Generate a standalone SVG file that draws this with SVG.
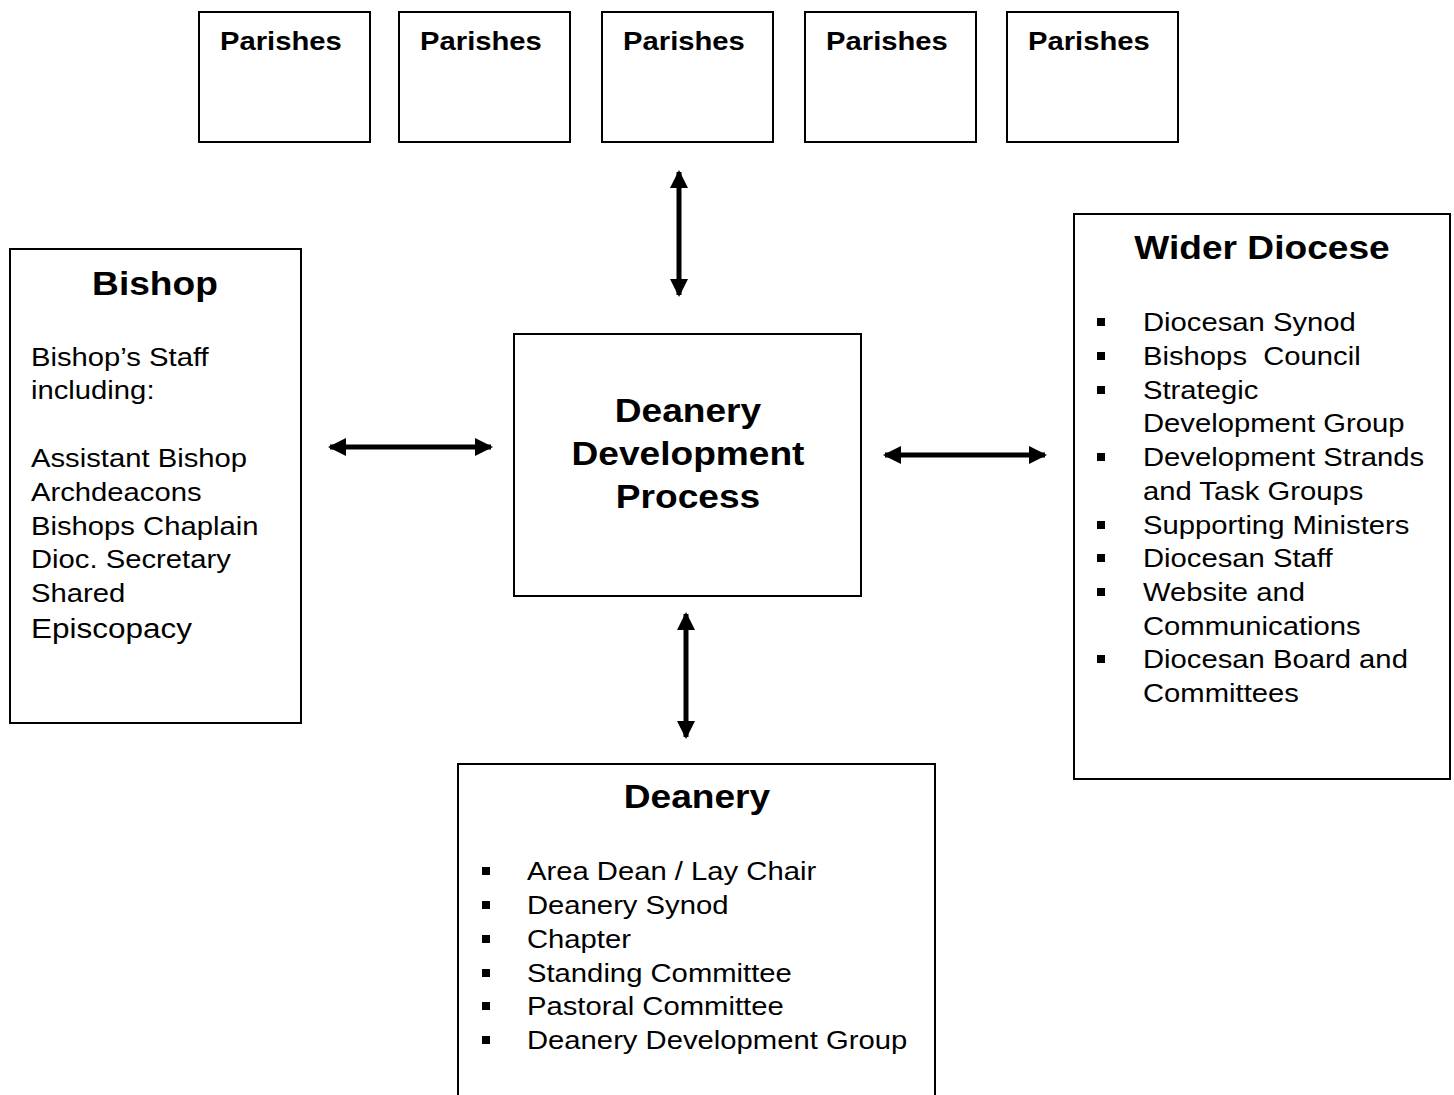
<svg xmlns="http://www.w3.org/2000/svg" width="1454" height="1095" viewBox="0 0 1454 1095">
<style>
.box{fill:#fff;stroke:#000;stroke-width:2}
text{font-family:"Liberation Sans",Arial,sans-serif;fill:#000}
.h{font-weight:bold;font-size:26px;transform-box:fill-box;transform-origin:0 0;transform:scaleX(1.125)}
.t{font-weight:bold;font-size:33px;text-anchor:middle;transform-box:fill-box;transform-origin:50% 50%;transform:scaleX(1.125)}
.b{font-size:26px;transform-box:fill-box;transform-origin:0 0;transform:scaleX(1.125)}
.c{stroke:#000;stroke-width:5;fill:none}
.bul{fill:#000}
</style>
<defs>
<marker id="ah" viewBox="0 0 18 18" refX="16" refY="9" markerWidth="18" markerHeight="18" markerUnits="userSpaceOnUse" orient="auto-start-reverse">
<path d="M0,0 L18,9 L0,18 Z" fill="#000"/>
</marker>
</defs>
<g id="parishes1"><rect class="box" x="199" y="12" width="171" height="130"/><text class="h" x="220" y="50">Parishes</text></g>
<g id="parishes2"><rect class="box" x="399" y="12" width="171" height="130"/><text class="h" x="420" y="50">Parishes</text></g>
<g id="parishes3"><rect class="box" x="602" y="12" width="171" height="130"/><text class="h" x="623" y="50">Parishes</text></g>
<g id="parishes4"><rect class="box" x="805" y="12" width="171" height="130"/><text class="h" x="826" y="50">Parishes</text></g>
<g id="parishes5"><rect class="box" x="1007" y="12" width="171" height="130"/><text class="h" x="1028" y="50">Parishes</text></g>
<g id="bishop"><rect class="box" x="10" y="249" width="291" height="474"/>
<text class="t" x="155" y="295">Bishop</text>
<text class="b" x="31" y="366">Bishop’s Staff</text>
<text class="b" x="31" y="399">including:</text>
<text class="b" x="31" y="467">Assistant Bishop</text>
<text class="b" x="31" y="501">Archdeacons</text>
<text class="b" x="31" y="535">Bishops Chaplain</text>
<text class="b" x="31" y="568">Dioc. Secretary</text>
<text class="b" x="31" y="602">Shared</text>
<text class="b" x="31" y="638" style="font-size:28px">Episcopacy</text>
</g>
<g id="process"><rect class="box" x="514" y="334" width="347" height="262"/>
<text class="t" x="688" y="422">Deanery</text>
<text class="t" x="688" y="465">Development</text>
<text class="t" x="688" y="508">Process</text>
</g>
<g id="wider"><rect class="box" x="1074" y="214" width="376" height="565"/>
<text class="t" x="1262" y="259">Wider Diocese</text>
<rect class="bul" x="1097" y="318" width="8" height="8"/><text class="b" x="1143" y="331">Diocesan Synod</text>
<rect class="bul" x="1097" y="352" width="8" height="8"/><text class="b" x="1143" y="365" xml:space="preserve">Bishops  Council</text>
<rect class="bul" x="1097" y="386" width="8" height="8"/><text class="b" x="1143" y="399">Strategic</text>
<text class="b" x="1143" y="432">Development Group</text>
<rect class="bul" x="1097" y="453" width="8" height="8"/><text class="b" x="1143" y="466">Development Strands</text>
<text class="b" x="1143" y="500">and Task Groups</text>
<rect class="bul" x="1097" y="521" width="8" height="8"/><text class="b" x="1143" y="534">Supporting Ministers</text>
<rect class="bul" x="1097" y="554" width="8" height="8"/><text class="b" x="1143" y="567">Diocesan Staff</text>
<rect class="bul" x="1097" y="588" width="8" height="8"/><text class="b" x="1143" y="601">Website and</text>
<text class="b" x="1143" y="635">Communications</text>
<rect class="bul" x="1097" y="655" width="8" height="8"/><text class="b" x="1143" y="668">Diocesan Board and</text>
<text class="b" x="1143" y="702">Committees</text>
</g>
<g id="deanery"><rect class="box" x="458" y="764" width="477" height="360"/>
<text class="t" x="697" y="808">Deanery</text>
<rect class="bul" x="482" y="867" width="8" height="8"/><text class="b" x="527" y="880">Area Dean / Lay Chair</text>
<rect class="bul" x="482" y="901" width="8" height="8"/><text class="b" x="527" y="914">Deanery Synod</text>
<rect class="bul" x="482" y="935" width="8" height="8"/><text class="b" x="527" y="948">Chapter</text>
<rect class="bul" x="482" y="969" width="8" height="8"/><text class="b" x="527" y="982">Standing Committee</text>
<rect class="bul" x="482" y="1002" width="8" height="8"/><text class="b" x="527" y="1015">Pastoral Committee</text>
<rect class="bul" x="482" y="1036" width="8" height="8"/><text class="b" x="527" y="1049">Deanery Development Group</text>
</g>
<g id="connectors">
<line class="c" x1="679" y1="172" x2="679" y2="295" marker-start="url(#ah)" marker-end="url(#ah)"/>
<line class="c" x1="330" y1="447" x2="491" y2="447" marker-start="url(#ah)" marker-end="url(#ah)"/>
<line class="c" x1="885" y1="455" x2="1045" y2="455" marker-start="url(#ah)" marker-end="url(#ah)"/>
<line class="c" x1="686" y1="614" x2="686" y2="737" marker-start="url(#ah)" marker-end="url(#ah)"/>
</g>
</svg>
